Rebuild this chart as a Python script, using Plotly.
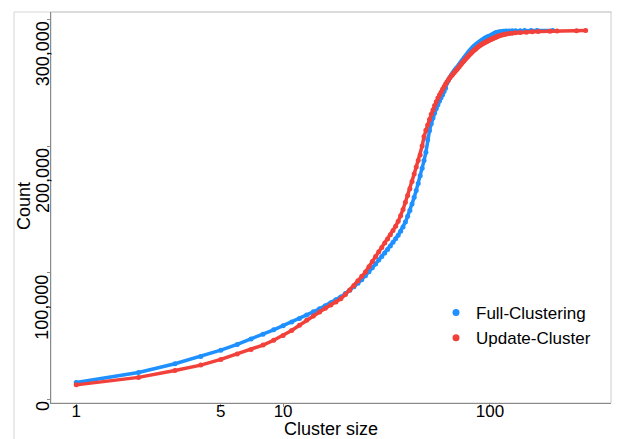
import plotly.graph_objects as go

# ---------------- data ----------------
full_sizes = list(range(1, 111)) + [112, 114, 116, 118, 120, 124, 128, 133, 140, 147, 158, 169, 201]
full_counts = [
    13400, 21400, 28300, 34000, 39000, 43500, 47700, 51600, 55000, 58300,
    61200, 64000, 66700, 69200, 71600, 74000, 76400, 78700, 81000, 83600,
    86300, 89000, 91800, 94600, 97600, 100800, 104000, 107000, 110000, 112800,
    115600, 118400, 121200, 124000, 126800, 129700, 132800, 136200, 140000, 144500,
    149200, 154200, 159500, 165000, 170500, 176500, 182500, 188500, 195000, 205000,
    212000, 217500, 222000, 226000, 229500, 232500, 235500, 238000, 240500, 243000,
    245500, 250000, 252000, 254000, 255800, 257400, 258900, 260300, 261600, 262800,
    264000, 265400, 266800, 268100, 269400, 270600, 271800, 273000, 274100, 275200,
    276200, 277100, 278000, 278800, 279500, 280200, 280900, 281500, 282100, 282700,
    283200, 283700, 284200, 284700, 285100, 285500, 285900, 286200, 286500, 286800,
    287200, 287600, 288000, 288400, 288800, 289100, 289300, 289500, 289700, 289900,
    290200, 290400, 290500, 290600, 290700, 290800, 290900, 291000, 291000, 291100,
    291100, 291200, 291200,
]

update_sizes = list(range(1, 111)) + [112, 114, 116, 118, 120, 124, 128, 133, 140, 150, 160, 171, 195, 211, 262, 290]
update_counts = [
    11600, 17500, 23000, 27200, 31700, 35900, 39500, 43000, 46800, 50500,
    54500, 58600, 62600, 66000, 69100, 72000, 74600, 77000, 79500, 82800,
    86400, 90000, 93800, 97200, 100600, 104800, 109000, 112800, 116500, 120000,
    123500, 126700, 130000, 133300, 136800, 140600, 145000, 150000, 155600, 161000,
    166200, 172000, 178000, 183500, 188500, 193000, 200000, 207500, 212500, 216500,
    221000, 225000, 228500, 232000, 235000, 237800, 240200, 242500, 244800, 247000,
    249000, 250700, 252300, 253800, 255200, 256500, 257800, 259000, 260200, 261400,
    262600, 263800, 265000, 266200, 267300, 268400, 269400, 270400, 271400, 272300,
    273200, 274100, 274900, 275700, 276400, 277100, 277800, 278400, 279000, 279600,
    280100, 280600, 281100, 281500, 281900, 282300, 282700, 283100, 283500, 283800,
    284100, 284400, 284700, 285000, 285300, 285600, 285900, 286200, 286500, 286700,
    287100, 287500, 287800, 288100, 288300, 288700, 289000, 289300, 289600, 289800,
    290100, 290300, 290600, 290800, 291000, 291200,
]

series_names = ["Full-Clustering", "Update-Cluster"]
series_colors = ["#1E90FF", "#F2403A"]

x_tick_vals = [1, 5, 10, 100]
x_tick_text = ["1", "5", "10", "100"]
y_tick_vals = [0, 100000, 200000, 300000]
y_tick_text = ["0", "100,000", "200,000", "300,000"]

# ---------------- figure ----------------
FONT = "Liberation Sans, Arial, sans-serif"

OFF = 8                    # page body margin of the html page
W, H = 620 - OFF, 439 - OFF
# plot panel in page pixels: x 51..611, y 12..403
ML = 51 - OFF
MT = 12 - OFF
MR = W - (611 - OFF)
MB = H - (403 - OFF)
PW, PH = W - ML - MR, H - MT - MB


def px_x(px):            # page pixel -> paper x
    return (px - OFF - ML) / PW


def px_y(py):            # page pixel -> paper y
    return (H - MB - (py - OFF)) / PH


fig = go.Figure()

fig.add_trace(go.Scatter(
    x=full_sizes, y=full_counts, mode="lines+markers", name=series_names[0],
    line=dict(color=series_colors[0], width=3.5), marker=dict(size=5, color=series_colors[0]),
    showlegend=False,
))
fig.add_trace(go.Scatter(
    x=update_sizes, y=update_counts, mode="lines+markers", name=series_names[1],
    line=dict(color=series_colors[1], width=3.5), marker=dict(size=5, color=series_colors[1]),
    showlegend=False,
))
# legend entries
for name, col in zip(series_names, series_colors):
    fig.add_trace(go.Scatter(
        x=[None], y=[None], mode="markers", name=name,
        marker=dict(size=7, color=col), showlegend=True,
    ))

annotations = []
for v, t in zip(y_tick_vals, y_tick_text):
    annotations.append(dict(
        x=px_x(42.5), xref="paper", y=v, yref="y", text=t, showarrow=False,
        textangle=-90, xanchor="center", yanchor="top",
        font=dict(family=FONT, size=18, color="black"),
    ))
annotations.append(dict(
    x=px_x(24), xref="paper", y=px_y(206), yref="paper", text="Count", showarrow=False,
    textangle=-90, xanchor="center", yanchor="middle",
    font=dict(family=FONT, size=18, color="black"),
))

fig.update_layout(
    width=W, height=H,
    margin=dict(l=ML, r=MR, t=MT, b=MB, autoexpand=False),
    paper_bgcolor="white", plot_bgcolor="white",
    showlegend=True,
    legend=dict(
        x=px_x(436), y=px_y(295), xanchor="left", yanchor="top",
        font=dict(family=FONT, size=17, color="black"),
        bgcolor="rgba(0,0,0,0)", borderwidth=0, itemwidth=30,
        tracegroupgap=0,
    ),
    annotations=annotations,
    shapes=[
        dict(type="rect", xref="paper", yref="paper",
             x0=px_x(14), x1=px_x(615), y0=px_y(445), y1=px_y(12),
             line=dict(color="#d6d6d6", width=1), layer="below"),
        dict(type="rect", xref="paper", yref="paper", x0=0, x1=1, y0=0, y1=1,
             line=dict(color="#cccccc", width=1), layer="below"),
    ],
)

fig.update_xaxes(
    type="log", range=[-0.122, 2.585],
    tickvals=x_tick_vals, ticktext=x_tick_text,
    ticks="outside", ticklen=3, tickcolor="#8a8a8a",
    ticklabelstandoff=-10,
    showline=True, linecolor="#8a8a8a", linewidth=1,
    showgrid=False, zeroline=False,
    tickfont=dict(family=FONT, size=17, color="black"),
    title=dict(text="Cluster size", font=dict(family=FONT, size=18, color="black"), standoff=2),
    automargin=False,
)
fig.update_yaxes(
    range=[-2700, 305700],
    tickvals=y_tick_vals, showticklabels=False,
    ticks="outside", ticklen=3, tickcolor="#8a8a8a",
    showline=True, linecolor="#8a8a8a", linewidth=1,
    showgrid=False, zeroline=False,
    automargin=False,
)

fig.write_html("out.html")
